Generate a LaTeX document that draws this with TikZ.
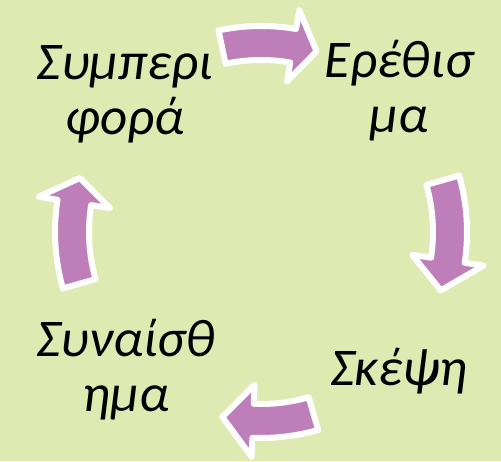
\documentclass[tikz,border=0pt]{standalone}
\usepackage{fontspec}
\setmainfont{Carlito}
\usepackage{tikz}
\usetikzlibrary{calc}
\usepackage{xcolor}
\definecolor{bggreen}{RGB}{222,234,177}
\definecolor{berry}{RGB}{190,126,185}

% block arrow along the cycle: start angle, head base angle, tip angle
\newcommand{\cyclearrow}[3]{%
  \filldraw[cyclearrow] (#1:172) arc[start angle=#1, end angle=#2, radius=172]
    -- (#2:153) -- (#3:189) -- (#2:225) -- (#2:206)
    arc[start angle=#2, end angle=#1, radius=206] -- cycle;}

\begin{document}
\begin{tikzpicture}[x=1pt, y=1pt,
  word/.style={align=center, inner sep=0pt, anchor=base,
    font=\itshape\fontsize{53}{55}\selectfont},
  cyclearrow/.style={fill=berry, draw=white, line width=6pt, line join=round}]
\fill[bggreen] (0,0) rectangle (501,461);
\useasboundingbox (0,0) rectangle (501,461);
% Parole
\node[word] (symperifora) at (125,326) {Συμπερι\\φορά};
\node[word] (erethisma) at (399,328) {Ερέθισ\\μα};
\node[word] (skepsi) at (399,76) {Σκέψη};
\node[word] (synaisthima) at (126,49) {Συναίσθ\\ημα};
% Frecce
\begin{scope}[shift={(261,229)}]
\cyclearrow{101.9}{80.2}{72.9}
\cyclearrow{15.9}{-8.6}{-18}
\cyclearrow{-73.9}{-92.4}{-101.8}
\cyclearrow{195.9}{171}{163.4}
\end{scope}
\end{tikzpicture}
\end{document}
